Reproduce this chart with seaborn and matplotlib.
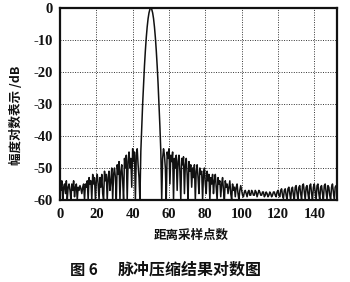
import numpy as np
import pandas as pd
import matplotlib
matplotlib.use("Agg")
import matplotlib.pyplot as plt
import seaborn as sns

# amplitude in dB, sampled every 0.5 range samples from 0 to 152
db_0_10 = [-55, -57, -54, -60, -56, -55, -58, -54, -60, -56, -55, -57, -60, -55, -57, -54, -59, -56, -55, -60]
db_10_20 = [-56, -57, -55.5, -56.5, -58, -56, -55, -60, -55, -56, -54, -60, -53, -55, -54, -60, -52, -55, -53, -60]
db_20_30 = [-54, -52, -55, -60, -53, -56, -52, -58, -60, -51, -54, -52, -60, -53, -51, -57, -54, -50, -60, -52]
db_30_40 = [-50, -53, -60, -49, -52, -48, -60, -51, -49, -54, -60, -47, -50, -46, -60, -48, -45, -50, -47, -56]
db_40_44 = [-44, -48, -45, -60, -46, -44, -49, -53]
db_main = [-60, -44.8, -37, -30, -23.7, -18.1, -13.3, -9.2, -5.9, -3.3, -1.5, -0.4, 0,
           -0.4, -1.5, -3.3, -5.9, -9.2, -13.3, -18.1, -23.7, -30, -37, -44.8, -60]
db_56_60 = [-47, -44, -46, -50, -60, -45, -47]
db_60_70 = [-44, -55, -46, -48, -45, -60, -47, -50, -46, -57, -48, -46, -51, -60, -47, -49, -46.5, -58, -49, -47]
db_70_80 = [-52, -60, -48, -51, -49, -56, -50, -53, -49, -60, -51, -49, -53, -58, -50, -52, -51, -60, -52, -50]
db_80_90 = [-55, -58, -51, -54, -52, -60, -53, -55, -52, -58, -54, -52, -56, -60, -53, -55, -54, -59, -55, -53]
db_90_100 = [-57, -60, -54, -56, -55, -58, -56, -54, -58, -60, -55, -57, -56, -59, -56, -55, -58, -60, -57, -55.5]
db_100_110 = [-57, -58.5, -59, -57.5, -57, -58, -59, -57.5, -57, -58.5, -58.5, -57, -57.5, -58.5, -58.5, -57, -57.5, -59, -58, -57]
db_110_120 = [-57.5, -58.5, -58.5, -57.5, -57.5, -59, -58.5, -57.5, -58, -59, -58.5, -57.5, -58, -59, -58.5, -57.5, -57.5, -58.5, -59, -57.5]
db_120_130 = [-57, -58.5, -59, -57, -56.5, -58.5, -59.5, -57, -56.5, -58.5, -60, -56.5, -56, -58, -60, -56.5, -56, -58.5, -60, -56]
db_130_140 = [-55.5, -58, -60, -56, -55.5, -58, -60, -55.5, -55, -57.5, -60, -56, -55.5, -58, -60, -55.5, -55, -58, -60, -56]
db_140_150 = [-55, -57.5, -60, -55.5, -55, -58, -60, -56, -55.5, -58, -60, -55.5, -55, -57.5, -60, -55.5, -56, -58.5, -60, -56]
db_150_152 = [-55, -57.5, -60, -56, -55.5]

db = (db_0_10 + db_10_20 + db_20_30 + db_30_40 + db_40_44 + db_main + db_56_60 +
      db_60_70 + db_70_80 + db_80_90 + db_90_100 + db_100_110 + db_110_120 +
      db_120_130 + db_130_140 + db_140_150 + db_150_152)
sample_step = 0.5
samples = np.arange(len(db)) * sample_step

x_ticks = [0, 20, 40, 60, 80, 100, 120, 140]
y_ticks = [0, -10, -20, -30, -40, -50, -60]

x_label = "距离采样点数"
y_label = "幅度对数表示 /dB"
caption_num = "图 6"
caption_txt = "脉冲压缩结果对数图"

df = pd.DataFrame({"sample": samples, "db": db})

sns.set_style("white")
plt.rcParams["font.family"] = ["Noto Sans CJK SC", "DejaVu Sans"]
plt.rcParams["axes.unicode_minus"] = False

fig = plt.figure(figsize=(3.5, 2.82), dpi=100)
ax = fig.add_axes([60 / 350, 1 - 200 / 282, 277 / 350, 192 / 282])
sns.lineplot(data=df, x="sample", y="db", ax=ax, color="#111111", linewidth=1.1)

ax.set_xlim(0, 152.5)
ax.set_ylim(-60, 0)
ax.set_xticks(x_ticks)
ax.set_yticks(y_ticks)
ax.set_xlabel("")
ax.set_ylabel("")
ax.grid(True, color="#333333", linestyle=(0, (1, 1.5)), linewidth=0.7)
for s in ax.spines.values():
    s.set_linewidth(1.6)
    s.set_color("#111111")
ax.tick_params(axis="both", length=0)
ax.tick_params(axis="x", pad=6)
ax.tick_params(axis="y", pad=5)
for lab in ax.get_xticklabels() + ax.get_yticklabels():
    lab.set_fontfamily("Liberation Serif")
    lab.set_fontweight("bold")
    lab.set_fontsize(10.5)
    lab.set_color("#111111")

fig.text(17 / 350, 1 - 115 / 282, y_label, rotation=90, ha="center", va="center",
         fontsize=9, color="#111111", fontweight="bold")
fig.text(191 / 350, 1 - 235 / 282, x_label, ha="center", va="center",
         fontsize=9, color="#111111", fontweight="bold")
fig.text(70 / 350, 1 - 270 / 282, caption_num, ha="left", va="center",
         fontsize=11, color="#111111", fontweight="bold")
fig.text(118 / 350, 1 - 270 / 282, caption_txt, ha="left", va="center",
         fontsize=11.5, color="#111111", fontweight="bold")

fig.savefig("out.png", dpi=100)
